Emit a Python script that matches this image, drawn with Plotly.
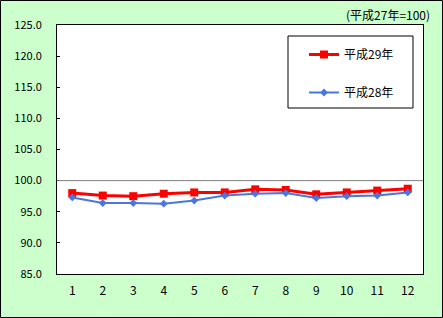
import plotly.graph_objects as go

months = [str(i) for i in range(1, 13)]
h29 = [98.0, 97.6, 97.5, 97.9, 98.1, 98.1, 98.6, 98.5, 97.8, 98.1, 98.4, 98.7]
h28 = [97.3, 96.4, 96.4, 96.3, 96.8, 97.6, 97.9, 98.0, 97.2, 97.5, 97.6, 98.1]
y_ticks = [85, 90, 95, 100, 105, 110, 115, 120, 125]

W, H = 443, 318
L, R, T, B = 57, 20, 25, 44
pw, ph = W - L - R, H - T - B

def px_x(p):
    return (p - L) / pw

def px_y(p):
    return (H - B - p) / ph

font = "Noto Sans CJK JP"

fig = go.Figure()
fig.add_trace(go.Scatter(
    x=list(range(1, 13)), y=h29, name="平成29年", mode="lines+markers",
    line=dict(color="#FF0000", width=3), marker=dict(symbol="square", size=8, color="#FF0000"),
    legendgroup="a"))
fig.add_trace(go.Scatter(
    x=list(range(1, 13)), y=h28, name="平成28年", mode="lines+markers",
    line=dict(color="#4A76E0", width=2), marker=dict(symbol="diamond", size=6, color="#4A76E0"),
    legendgroup="b"))

fig.update_layout(
    width=W, height=H,
    margin=dict(l=L, r=R, t=T, b=B),
    paper_bgcolor="#CCFFCC", plot_bgcolor="#FFFFFF",
    font=dict(family=font, size=11, color="#000000"),
    showlegend=True,
    legend=dict(x=px_x(304), y=px_y(40), xanchor="left", yanchor="top",
                bgcolor="rgba(0,0,0,0)", borderwidth=0, tracegroupgap=19, itemwidth=30,
                font=dict(family=font, size=12)),
    xaxis=dict(range=[0.5, 12.5], tickmode="array", tickvals=list(range(1, 13)), ticktext=months,
               showgrid=False, zeroline=False, showline=True, linecolor="#000000", linewidth=1,
               mirror=True, ticks="", ticklabelstandoff=6, tickfont=dict(size=12), fixedrange=True),
    yaxis=dict(range=[85, 125], tickmode="array", tickvals=y_ticks,
               ticktext=[f"{v:.1f}" for v in y_ticks],
               showgrid=False, zeroline=False, showline=True, linecolor="#000000", linewidth=1,
               mirror=True, ticks="inside", ticklen=3, tickcolor="#000000",
               ticklabelstandoff=12, fixedrange=True),
    shapes=[
        dict(type="line", xref="paper", yref="y", x0=0, x1=1, y0=100, y1=100,
             line=dict(color="#808080", width=1)),
        dict(type="rect", xref="paper", yref="paper",
             x0=px_x(288), x1=px_x(413), y0=px_y(36), y1=px_y(108),
             line=dict(color="#000000", width=1), fillcolor="rgba(0,0,0,0)"),
        dict(type="rect", xref="paper", yref="paper",
             x0=px_x(0.5), x1=px_x(W - 0.5), y0=px_y(0.5), y1=px_y(H - 0.5),
             line=dict(color="#000000", width=1), fillcolor="rgba(0,0,0,0)"),
    ],
    annotations=[
        dict(text="(平成27年=100)", xref="paper", yref="paper", x=px_x(432), y=px_y(15),
             xanchor="right", yanchor="middle", showarrow=False, font=dict(family=font, size=12)),
    ],
)

fig.write_html("out.html", config={"displayModeBar": False})
